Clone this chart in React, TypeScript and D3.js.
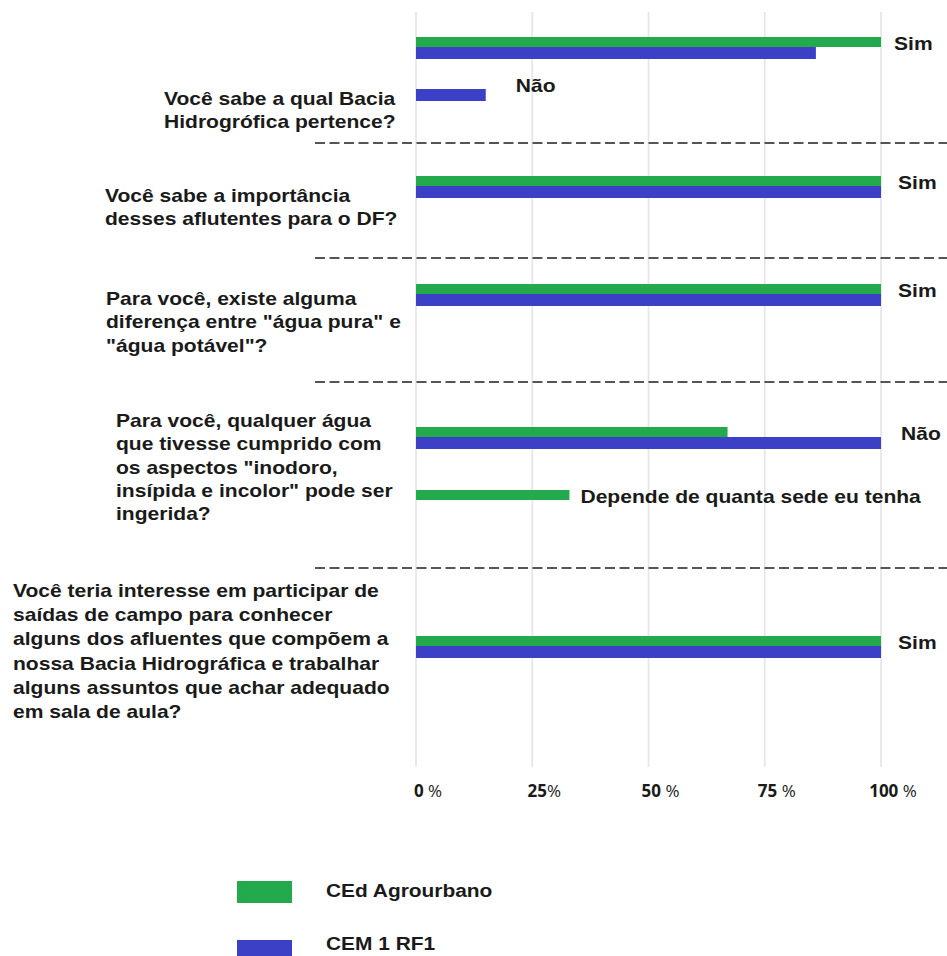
import React from "react";
import * as d3 from "d3";

// ---- data ----
const questionLines: string[][] = [
  ["Você sabe a qual Bacia", "Hidrogrófica pertence?"],
  ["Você sabe a importância", "desses aflutentes para o DF?"],
  ["Para você, existe alguma", "diferença entre \"água pura\" e", "\"água potável\"?"],
  [
    "Para você, qualquer água",
    "que tivesse cumprido com",
    "os aspectos \"inodoro,",
    "insípida e incolor\" pode ser",
    "ingerida?",
  ],
  [
    "Você teria interesse em participar de",
    "saídas de campo para conhecer",
    "alguns dos afluentes que compõem a",
    "nossa Bacia Hidrográfica e trabalhar",
    "alguns assuntos que achar adequado",
    "em sala de aula?",
  ],
];
const answerLabels = ["Sim", "Não", "Sim", "Sim", "Não", "Depende de quanta sede eu tenha", "Sim"];
const cedAgrourbano = [100, 0, 100, 100, 67, 33, 100];
const cem1RF1 = [86, 15, 100, 100, 100, 0, 100];
const seriesNames = ["CEd Agrourbano", "CEM 1 RF1"];
const tickValues = [0, 25, 50, 75, 100];
const tickSuffix = [" %", "%", " %", " %", " %"];

// ---- layout (positions / styles, not data) ----
const W = 947;
const H = 956;
const GREEN = "#23aa4c";
const BLUE = "#3b40c6";
const TEXT = "#1a1a1a";
const rowBoundary = [47, 89, 186, 294, 437, 500, 646];
const labelOffset = [13, 30, 17, 17, 20, 11, 17];
const qX = [164, 105, 106, 116, 13];
const qY = [105, 202, 305, 427, 597];
const qLH = [23.5, 23, 23.5, 23.3, 24.2];
const dividerY = [143, 258, 382, 568];
const STRETCH = 1.17;

export default function App() {
  const x = d3.scaleLinear().domain([0, 100]).range([416, 881]);
  const greenH = 10;
  const blueH = 12;
  const font = "'Liberation Sans', Arial, sans-serif";

  return (
    <svg
      width={W}
      height={H}
      style={{ position: "absolute", left: 0, top: 0, background: "#fff" }}
      fontFamily={font}
    >
      <rect x={0} y={0} width={W} height={H} fill="#fff" />
      {/* gridlines */}
      {tickValues.map((t) => (
        <line key={t} x1={x(t)} x2={x(t)} y1={12} y2={767} stroke="#e6e6e6" strokeWidth={1.7} />
      ))}
      {/* dividers */}
      {dividerY.map((y, i) => (
        <line
          key={i}
          x1={315}
          x2={W}
          y1={y}
          y2={y}
          stroke="#1e1e1e"
          strokeWidth={1.5}
          strokeDasharray="10 4.5"
        />
      ))}
      {/* bars */}
      {answerLabels.map((lab, i) => {
        const b = rowBoundary[i];
        const end = Math.max(x(cedAgrourbano[i]), x(cem1RF1[i]));
        return (
          <g key={i}>
            {cedAgrourbano[i] > 0 && (
              <rect x={x(0)} y={b - greenH} width={x(cedAgrourbano[i]) - x(0)} height={greenH} fill={GREEN} />
            )}
            {cem1RF1[i] > 0 && (
              <rect x={x(0)} y={b} width={x(cem1RF1[i]) - x(0)} height={blueH} fill={BLUE} />
            )}
            <g transform={`translate(${end + labelOffset[i]},${b + 3}) scale(${STRETCH},1)`}>
              <text x={0} y={0} fontSize={18} fontWeight={700} fill={TEXT}>
                {lab}
              </text>
            </g>
          </g>
        );
      })}
      {/* question text */}
      {questionLines.map((lines, qi) => (
        <g key={qi} transform={`translate(${qX[qi]},0) scale(${STRETCH},1)`}>
          {lines.map((ln, li) => (
            <text key={li} x={0} y={qY[qi] + li * qLH[qi]} fontSize={18} fontWeight={700} fill={TEXT}>
              {ln}
            </text>
          ))}
        </g>
      ))}
      {/* tick labels */}
      {tickValues.map((t, i) => (
        <text
          key={t}
          x={x(t) + 12}
          y={797}
          textAnchor="middle"
          fontFamily="'Open Sans', sans-serif"
          fontSize={17}
          fill={TEXT}
        >
          <tspan fontWeight={700}>{String(t)}</tspan>
          <tspan fontWeight={400}>{tickSuffix[i]}</tspan>
        </text>
      ))}
      {/* legend */}
      {seriesNames.map((name, i) => (
        <g key={name}>
          <rect x={237} y={881 + i * 59} width={55} height={22} fill={i === 0 ? GREEN : BLUE} />
          <g transform={`translate(326,${897 + i * 53}) scale(1.1,1)`}>
            <text x={0} y={0} fontSize={19} fontWeight={700} fill={TEXT}>
              {name}
            </text>
          </g>
        </g>
      ))}
    </svg>
  );
}
